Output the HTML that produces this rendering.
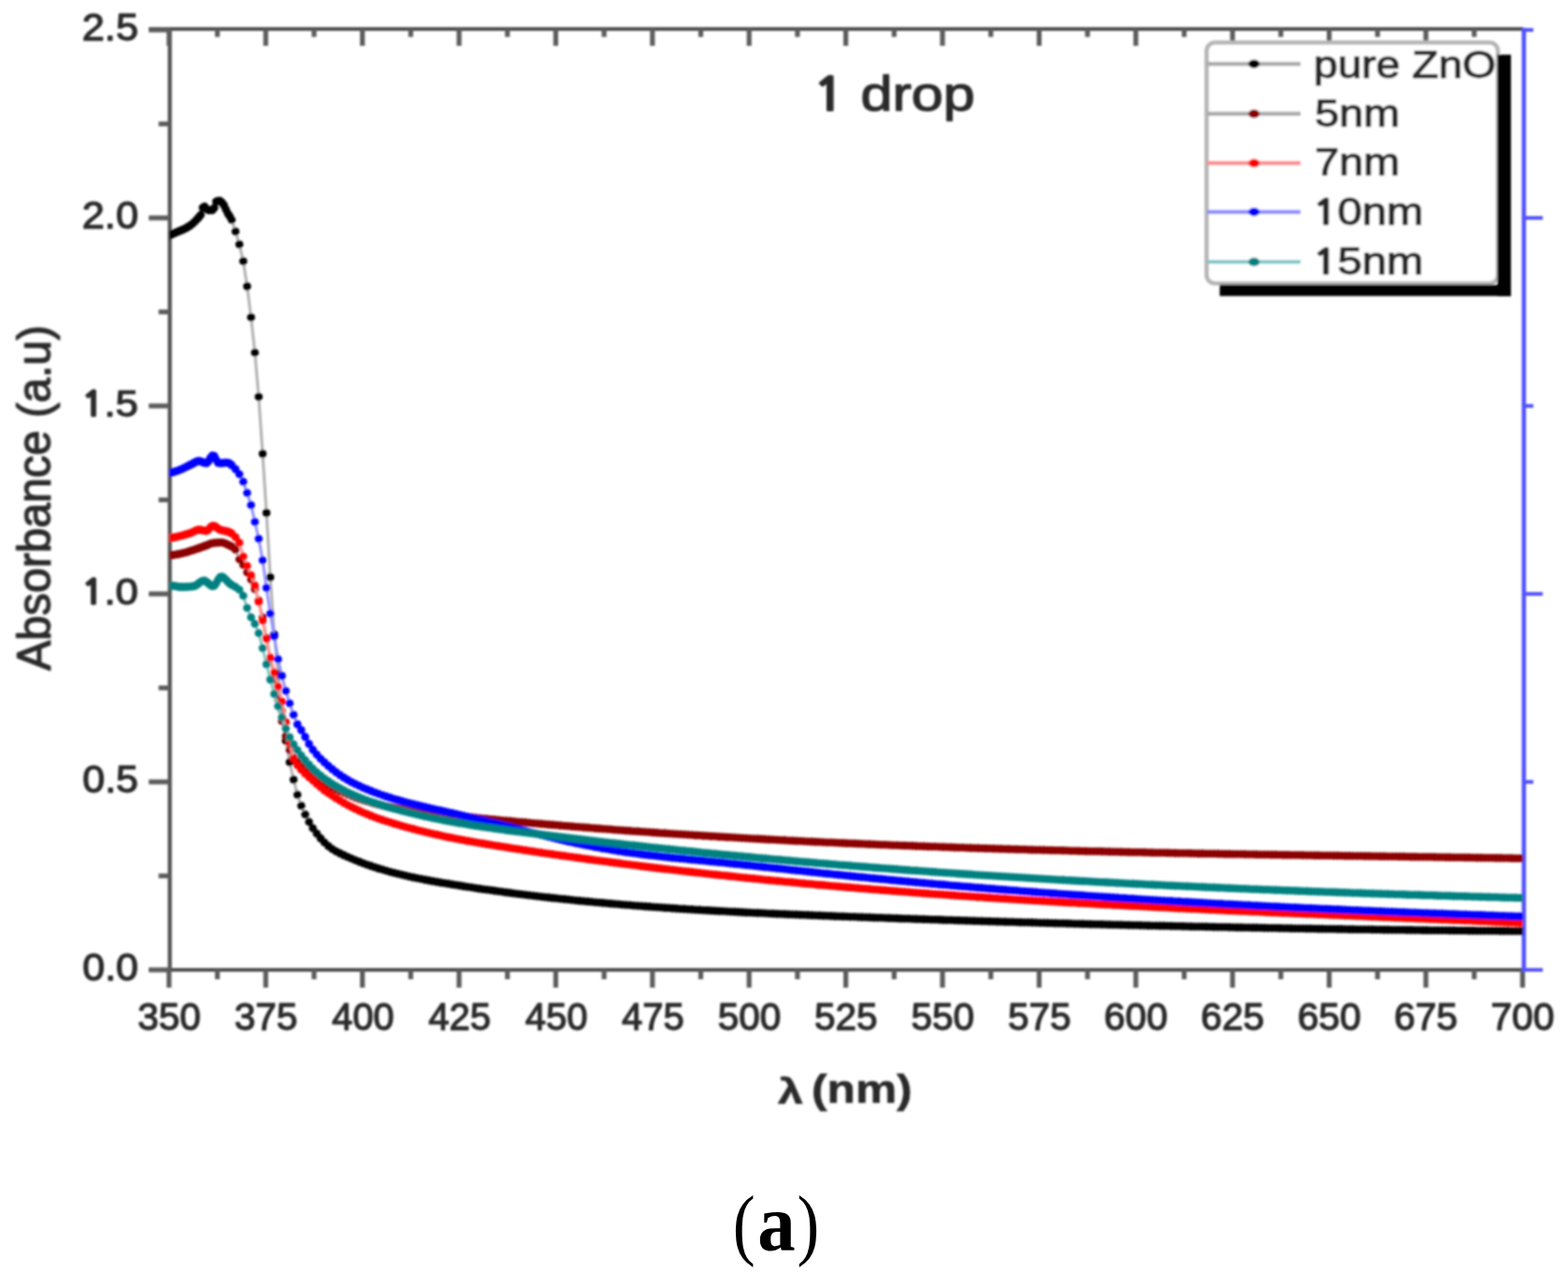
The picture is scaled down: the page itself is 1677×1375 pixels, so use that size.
<!DOCTYPE html>
<html><head><meta charset="utf-8"><title>Absorbance spectra - 1 drop</title>
<style>
html,body{margin:0;padding:0;background:#fff;}
body{width:1677px;height:1375px;overflow:hidden;}
svg{display:block;font-family:"Liberation Sans", Arial, sans-serif;}
</style></head><body>
<svg width="1677" height="1375" viewBox="0 0 1677 1375">
<defs><marker id="mk" markerUnits="userSpaceOnUse" markerWidth="12" markerHeight="12" refX="6" refY="6" viewBox="0 0 12 12"><circle cx="6" cy="6" r="4.3" fill="#000"/></marker><marker id="md" markerUnits="userSpaceOnUse" markerWidth="12" markerHeight="12" refX="6" refY="6" viewBox="0 0 12 12"><circle cx="6" cy="6" r="4.3" fill="#8b0000"/></marker><marker id="mr" markerUnits="userSpaceOnUse" markerWidth="12" markerHeight="12" refX="6" refY="6" viewBox="0 0 12 12"><circle cx="6" cy="6" r="4.3" fill="#ff0000"/></marker><marker id="mb" markerUnits="userSpaceOnUse" markerWidth="12" markerHeight="12" refX="6" refY="6" viewBox="0 0 12 12"><circle cx="6" cy="6" r="4.3" fill="#0000ff"/></marker><marker id="mt" markerUnits="userSpaceOnUse" markerWidth="12" markerHeight="12" refX="6" refY="6" viewBox="0 0 12 12"><circle cx="6" cy="6" r="4.3" fill="#008080"/></marker>
<clipPath id="pc"><rect x="181" y="20" width="1447.5" height="1017"/></clipPath>
<filter id="bl" x="0" y="0" width="1677" height="1375" filterUnits="userSpaceOnUse"><feGaussianBlur stdDeviation="0.9"/></filter></defs>
<rect width="1677" height="1375" fill="#fff"/>
<g filter="url(#bl)">
<g id="axes"><line x1="181.6" y1="30" x2="181.6" y2="1038.8" stroke="#505050" stroke-width="4.2"/><line x1="159" y1="1037.0" x2="1630" y2="1037.0" stroke="#505050" stroke-width="4.2"/><line x1="159" y1="31" x2="1629" y2="31" stroke="#505050" stroke-width="4.2"/><line x1="159.1" y1="1037.0" x2="181.6" y2="1037.0" stroke="#5c5c5c" stroke-width="5.2"/><line x1="169.6" y1="936.5" x2="181.6" y2="936.5" stroke="#5c5c5c" stroke-width="5.2"/><line x1="159.1" y1="836.0" x2="181.6" y2="836.0" stroke="#5c5c5c" stroke-width="5.2"/><line x1="169.6" y1="735.5" x2="181.6" y2="735.5" stroke="#5c5c5c" stroke-width="5.2"/><line x1="159.1" y1="635.0" x2="181.6" y2="635.0" stroke="#5c5c5c" stroke-width="5.2"/><line x1="169.6" y1="534.5" x2="181.6" y2="534.5" stroke="#5c5c5c" stroke-width="5.2"/><line x1="159.1" y1="434.0" x2="181.6" y2="434.0" stroke="#5c5c5c" stroke-width="5.2"/><line x1="169.6" y1="333.5" x2="181.6" y2="333.5" stroke="#5c5c5c" stroke-width="5.2"/><line x1="159.1" y1="233.0" x2="181.6" y2="233.0" stroke="#5c5c5c" stroke-width="5.2"/><line x1="169.6" y1="132.5" x2="181.6" y2="132.5" stroke="#5c5c5c" stroke-width="5.2"/><line x1="159.1" y1="32.0" x2="181.6" y2="32.0" stroke="#5c5c5c" stroke-width="5.2"/><line x1="180.8" y1="1037.0" x2="180.8" y2="1056.0" stroke="#5c5c5c" stroke-width="5.2"/><line x1="180.8" y1="31" x2="180.8" y2="49" stroke="#5c5c5c" stroke-width="5.2"/><line x1="232.5" y1="1037.0" x2="232.5" y2="1047.0" stroke="#5c5c5c" stroke-width="5.2"/><line x1="232.5" y1="31" x2="232.5" y2="39.5" stroke="#5c5c5c" stroke-width="5.2"/><line x1="284.2" y1="1037.0" x2="284.2" y2="1056.0" stroke="#5c5c5c" stroke-width="5.2"/><line x1="284.2" y1="31" x2="284.2" y2="49" stroke="#5c5c5c" stroke-width="5.2"/><line x1="335.9" y1="1037.0" x2="335.9" y2="1047.0" stroke="#5c5c5c" stroke-width="5.2"/><line x1="335.9" y1="31" x2="335.9" y2="39.5" stroke="#5c5c5c" stroke-width="5.2"/><line x1="387.6" y1="1037.0" x2="387.6" y2="1056.0" stroke="#5c5c5c" stroke-width="5.2"/><line x1="387.6" y1="31" x2="387.6" y2="49" stroke="#5c5c5c" stroke-width="5.2"/><line x1="439.3" y1="1037.0" x2="439.3" y2="1047.0" stroke="#5c5c5c" stroke-width="5.2"/><line x1="439.3" y1="31" x2="439.3" y2="39.5" stroke="#5c5c5c" stroke-width="5.2"/><line x1="491.0" y1="1037.0" x2="491.0" y2="1056.0" stroke="#5c5c5c" stroke-width="5.2"/><line x1="491.0" y1="31" x2="491.0" y2="49" stroke="#5c5c5c" stroke-width="5.2"/><line x1="542.7" y1="1037.0" x2="542.7" y2="1047.0" stroke="#5c5c5c" stroke-width="5.2"/><line x1="542.7" y1="31" x2="542.7" y2="39.5" stroke="#5c5c5c" stroke-width="5.2"/><line x1="594.4" y1="1037.0" x2="594.4" y2="1056.0" stroke="#5c5c5c" stroke-width="5.2"/><line x1="594.4" y1="31" x2="594.4" y2="49" stroke="#5c5c5c" stroke-width="5.2"/><line x1="646.1" y1="1037.0" x2="646.1" y2="1047.0" stroke="#5c5c5c" stroke-width="5.2"/><line x1="646.1" y1="31" x2="646.1" y2="39.5" stroke="#5c5c5c" stroke-width="5.2"/><line x1="697.8" y1="1037.0" x2="697.8" y2="1056.0" stroke="#5c5c5c" stroke-width="5.2"/><line x1="697.8" y1="31" x2="697.8" y2="49" stroke="#5c5c5c" stroke-width="5.2"/><line x1="749.5" y1="1037.0" x2="749.5" y2="1047.0" stroke="#5c5c5c" stroke-width="5.2"/><line x1="749.5" y1="31" x2="749.5" y2="39.5" stroke="#5c5c5c" stroke-width="5.2"/><line x1="801.2" y1="1037.0" x2="801.2" y2="1056.0" stroke="#5c5c5c" stroke-width="5.2"/><line x1="801.2" y1="31" x2="801.2" y2="49" stroke="#5c5c5c" stroke-width="5.2"/><line x1="852.9" y1="1037.0" x2="852.9" y2="1047.0" stroke="#5c5c5c" stroke-width="5.2"/><line x1="852.9" y1="31" x2="852.9" y2="39.5" stroke="#5c5c5c" stroke-width="5.2"/><line x1="904.6" y1="1037.0" x2="904.6" y2="1056.0" stroke="#5c5c5c" stroke-width="5.2"/><line x1="904.6" y1="31" x2="904.6" y2="49" stroke="#5c5c5c" stroke-width="5.2"/><line x1="956.3" y1="1037.0" x2="956.3" y2="1047.0" stroke="#5c5c5c" stroke-width="5.2"/><line x1="956.3" y1="31" x2="956.3" y2="39.5" stroke="#5c5c5c" stroke-width="5.2"/><line x1="1008.0" y1="1037.0" x2="1008.0" y2="1056.0" stroke="#5c5c5c" stroke-width="5.2"/><line x1="1008.0" y1="31" x2="1008.0" y2="49" stroke="#5c5c5c" stroke-width="5.2"/><line x1="1059.7" y1="1037.0" x2="1059.7" y2="1047.0" stroke="#5c5c5c" stroke-width="5.2"/><line x1="1059.7" y1="31" x2="1059.7" y2="39.5" stroke="#5c5c5c" stroke-width="5.2"/><line x1="1111.4" y1="1037.0" x2="1111.4" y2="1056.0" stroke="#5c5c5c" stroke-width="5.2"/><line x1="1111.4" y1="31" x2="1111.4" y2="49" stroke="#5c5c5c" stroke-width="5.2"/><line x1="1163.1" y1="1037.0" x2="1163.1" y2="1047.0" stroke="#5c5c5c" stroke-width="5.2"/><line x1="1163.1" y1="31" x2="1163.1" y2="39.5" stroke="#5c5c5c" stroke-width="5.2"/><line x1="1214.8" y1="1037.0" x2="1214.8" y2="1056.0" stroke="#5c5c5c" stroke-width="5.2"/><line x1="1214.8" y1="31" x2="1214.8" y2="49" stroke="#5c5c5c" stroke-width="5.2"/><line x1="1266.5" y1="1037.0" x2="1266.5" y2="1047.0" stroke="#5c5c5c" stroke-width="5.2"/><line x1="1266.5" y1="31" x2="1266.5" y2="39.5" stroke="#5c5c5c" stroke-width="5.2"/><line x1="1318.2" y1="1037.0" x2="1318.2" y2="1056.0" stroke="#5c5c5c" stroke-width="5.2"/><line x1="1318.2" y1="31" x2="1318.2" y2="49" stroke="#5c5c5c" stroke-width="5.2"/><line x1="1369.9" y1="1037.0" x2="1369.9" y2="1047.0" stroke="#5c5c5c" stroke-width="5.2"/><line x1="1369.9" y1="31" x2="1369.9" y2="39.5" stroke="#5c5c5c" stroke-width="5.2"/><line x1="1421.6" y1="1037.0" x2="1421.6" y2="1056.0" stroke="#5c5c5c" stroke-width="5.2"/><line x1="1421.6" y1="31" x2="1421.6" y2="49" stroke="#5c5c5c" stroke-width="5.2"/><line x1="1473.3" y1="1037.0" x2="1473.3" y2="1047.0" stroke="#5c5c5c" stroke-width="5.2"/><line x1="1473.3" y1="31" x2="1473.3" y2="39.5" stroke="#5c5c5c" stroke-width="5.2"/><line x1="1525.0" y1="1037.0" x2="1525.0" y2="1056.0" stroke="#5c5c5c" stroke-width="5.2"/><line x1="1525.0" y1="31" x2="1525.0" y2="49" stroke="#5c5c5c" stroke-width="5.2"/><line x1="1576.7" y1="1037.0" x2="1576.7" y2="1047.0" stroke="#5c5c5c" stroke-width="5.2"/><line x1="1576.7" y1="31" x2="1576.7" y2="39.5" stroke="#5c5c5c" stroke-width="5.2"/><line x1="1628.4" y1="1037.0" x2="1628.4" y2="1056.0" stroke="#5c5c5c" stroke-width="5.2"/><line x1="1629.8" y1="29.8" x2="1629.8" y2="1039" stroke="#5252ff" stroke-width="4.6"/><line x1="1630" y1="1037.0" x2="1650" y2="1037.0" stroke="#5252ff" stroke-width="4"/><line x1="1630" y1="836.0" x2="1640" y2="836.0" stroke="#5252ff" stroke-width="4"/><line x1="1630" y1="635.0" x2="1650" y2="635.0" stroke="#5252ff" stroke-width="4"/><line x1="1630" y1="434.0" x2="1640" y2="434.0" stroke="#5252ff" stroke-width="4"/><line x1="1630" y1="233.0" x2="1650" y2="233.0" stroke="#5252ff" stroke-width="4"/><line x1="1630" y1="32.0" x2="1640" y2="32.0" stroke="#5252ff" stroke-width="4"/></g>
<g id="curves" clip-path="url(#pc)"><polyline points="181.6,251.5 183.7,250.6 185.7,249.7 187.8,248.8 189.9,247.9 191.9,247.0 194.0,246.1 196.1,245.2 198.1,244.2 200.2,243.1 202.3,241.9 204.3,240.5 206.4,238.7 208.5,236.7 210.6,234.5 212.6,232.4 214.7,229.8 216.8,222.0 218.8,220.7 220.9,223.5 223.0,224.8 225.0,224.8 227.1,224.8 229.2,222.2 231.2,215.5 233.3,214.9 235.4,214.8 237.4,216.5 239.5,219.4 241.6,223.9 243.6,228.1 245.7,231.3 247.8,235.0 251.9,247.5 256.0,261.2 260.2,279.3 264.3,306.1 268.5,339.2 272.6,377.0 276.7,424.3 280.9,485.1 285.0,548.4 289.1,617.1 293.3,678.0 297.4,720.5 301.5,760.0 305.7,792.0 309.8,814.9 314.0,833.6 318.1,849.8 322.2,861.5 326.4,870.8 330.5,878.8 334.6,885.5 338.8,891.3 342.9,896.4 347.0,900.8 351.2,904.6 355.3,907.7 359.4,910.3 363.6,912.4 367.7,914.4 371.9,916.3 376.0,918.0 380.1,919.8 384.3,921.4 388.4,923.0 392.5,924.5 396.7,925.9 400.8,927.3 404.9,928.6 409.1,929.8 413.2,931.0 417.4,932.2 421.5,933.3 425.6,934.3 429.8,935.3 433.9,936.3 438.0,937.2 442.2,938.1 446.3,939.0 450.4,939.8 454.6,940.6 458.7,941.4 462.8,942.1 467.0,942.9 471.1,943.6 475.3,944.3 479.4,944.9 483.5,945.6 487.7,946.3 491.8,946.9 495.9,947.6 500.1,948.2 504.2,948.8 508.3,949.5 512.5,950.1 516.6,950.7 520.8,951.3 524.9,951.8 529.0,952.4 533.2,953.0 537.3,953.5 541.4,954.1 545.6,954.6 549.7,955.2 553.8,955.7 558.0,956.2 562.1,956.7 566.2,957.2 570.4,957.7 574.5,958.2 578.7,958.7 582.8,959.2 586.9,959.6 591.1,960.1 595.2,960.5 599.3,961.0 603.5,961.4 607.6,961.8 611.7,962.3 615.9,962.7 620.0,963.1 624.2,963.5 628.3,963.9 632.4,964.3 636.6,964.7 640.7,965.0 644.8,965.4 649.0,965.8 653.1,966.1 657.2,966.5 661.4,966.8 665.5,967.2 669.6,967.5 673.8,967.8 677.9,968.2 682.1,968.5 686.2,968.8 690.3,969.1 694.5,969.4 698.6,969.7 702.7,970.0 706.9,970.3 711.0,970.6 715.1,970.8 719.3,971.1 723.4,971.4 727.6,971.7 731.7,971.9 735.8,972.2 740.0,972.4 744.1,972.7 748.2,972.9 752.4,973.2 756.5,973.4 760.6,973.6 764.8,973.9 768.9,974.1 773.0,974.3 777.2,974.5 781.3,974.7 785.5,974.9 789.6,975.1 793.7,975.4 797.9,975.6 802.0,975.8 806.1,976.0 810.3,976.1 814.4,976.3 818.5,976.5 822.7,976.7 826.8,976.9 831.0,977.1 835.1,977.2 839.2,977.4 843.4,977.6 847.5,977.8 851.6,977.9 855.8,978.1 859.9,978.3 864.0,978.4 868.2,978.6 872.3,978.8 876.4,978.9 880.6,979.1 884.7,979.2 888.9,979.4 893.0,979.6 897.1,979.7 901.3,979.9 905.4,980.0 909.5,980.2 913.7,980.3 917.8,980.5 921.9,980.6 926.1,980.8 930.2,980.9 934.4,981.1 938.5,981.2 942.6,981.3 946.8,981.5 950.9,981.6 955.0,981.8 959.2,981.9 963.3,982.1 967.4,982.2 971.6,982.3 975.7,982.5 979.8,982.6 984.0,982.8 988.1,982.9 992.3,983.0 996.4,983.2 1000.5,983.3 1004.7,983.4 1008.8,983.6 1012.9,983.7 1017.1,983.8 1021.2,984.0 1025.3,984.1 1029.5,984.2 1033.6,984.4 1037.8,984.5 1041.9,984.6 1046.0,984.7 1050.2,984.9 1054.3,985.0 1058.4,985.1 1062.6,985.2 1066.7,985.4 1070.8,985.5 1075.0,985.6 1079.1,985.7 1083.2,985.8 1087.4,986.0 1091.5,986.1 1095.7,986.2 1099.8,986.3 1103.9,986.4 1108.1,986.5 1112.2,986.7 1116.3,986.8 1120.5,986.9 1124.6,987.0 1128.7,987.1 1132.9,987.2 1137.0,987.3 1141.2,987.4 1145.3,987.5 1149.4,987.7 1153.6,987.8 1157.7,987.9 1161.8,988.0 1166.0,988.1 1170.1,988.2 1174.2,988.3 1178.4,988.4 1182.5,988.5 1186.6,988.6 1190.8,988.7 1194.9,988.8 1199.1,988.9 1203.2,989.0 1207.3,989.1 1211.5,989.2 1215.6,989.3 1219.7,989.4 1223.9,989.5 1228.0,989.6 1232.1,989.7 1236.3,989.8 1240.4,989.9 1244.6,989.9 1248.7,990.0 1252.8,990.1 1257.0,990.2 1261.1,990.3 1265.2,990.4 1269.4,990.5 1273.5,990.6 1277.6,990.7 1281.8,990.7 1285.9,990.8 1290.0,990.9 1294.2,991.0 1298.3,991.1 1302.5,991.2 1306.6,991.2 1310.7,991.3 1314.9,991.4 1319.0,991.5 1323.1,991.6 1327.3,991.6 1331.4,991.7 1335.5,991.8 1339.7,991.9 1343.8,991.9 1348.0,992.0 1352.1,992.1 1356.2,992.2 1360.4,992.2 1364.5,992.3 1368.6,992.4 1372.8,992.5 1376.9,992.5 1381.0,992.6 1385.2,992.7 1389.3,992.7 1393.4,992.8 1397.6,992.9 1401.7,992.9 1405.9,993.0 1410.0,993.1 1414.1,993.1 1418.3,993.2 1422.4,993.2 1426.5,993.3 1430.7,993.4 1434.8,993.4 1438.9,993.5 1443.1,993.6 1447.2,993.6 1451.4,993.7 1455.5,993.7 1459.6,993.8 1463.8,993.8 1467.9,993.9 1472.0,994.0 1476.2,994.0 1480.3,994.1 1484.4,994.1 1488.6,994.2 1492.7,994.2 1496.8,994.3 1501.0,994.3 1505.1,994.4 1509.3,994.4 1513.4,994.5 1517.5,994.5 1521.7,994.6 1525.8,994.6 1529.9,994.7 1534.1,994.7 1538.2,994.7 1542.3,994.8 1546.5,994.8 1550.6,994.9 1554.8,994.9 1558.9,995.0 1563.0,995.0 1567.2,995.0 1571.3,995.1 1575.4,995.1 1579.6,995.2 1583.7,995.2 1587.8,995.2 1592.0,995.3 1596.1,995.3 1600.2,995.3 1604.4,995.4 1608.5,995.4 1612.7,995.4 1616.8,995.5 1620.9,995.5 1625.1,995.5 1629.2,995.6" fill="none" stroke="#b0b0b0" stroke-width="3" marker-start="url(#mk)" marker-mid="url(#mk)" marker-end="url(#mk)"/><polyline points="181.6,593.8 183.7,593.6 185.7,593.3 187.8,593.0 189.9,592.6 191.9,592.2 194.0,591.8 196.1,591.3 198.1,590.8 200.2,590.2 202.3,589.5 204.3,588.8 206.4,588.2 208.5,587.5 210.6,586.8 212.6,586.1 214.7,585.3 216.8,584.6 218.8,583.9 220.9,583.1 223.0,582.2 225.0,581.3 227.1,580.7 229.2,580.5 231.2,580.3 233.3,580.1 235.4,580.0 237.4,580.0 239.5,580.5 241.6,581.3 243.6,582.3 245.7,583.3 247.8,584.4 251.9,587.8 256.0,598.0 260.2,604.0 264.3,612.0 268.5,619.5 272.6,630.0 276.7,642.0 280.9,660.0 285.0,682.0 289.1,704.0 293.3,726.0 297.4,748.0 301.5,771.0 305.7,787.0 309.8,802.0 314.0,810.0 318.1,814.5 322.2,818.2 326.4,822.0 330.5,825.4 334.6,828.5 338.8,831.5 342.9,834.3 347.0,836.9 351.2,839.3 355.3,841.6 359.4,843.7 363.6,845.6 367.7,847.5 371.9,849.3 376.0,851.0 380.1,852.6 384.3,854.1 388.4,855.5 392.5,856.8 396.7,858.0 400.8,859.1 404.9,860.2 409.1,861.1 413.2,862.0 417.4,862.9 421.5,863.6 425.6,864.4 429.8,865.1 433.9,865.7 438.0,866.3 442.2,866.9 446.3,867.4 450.4,867.9 454.6,868.4 458.7,868.9 462.8,869.4 467.0,869.9 471.1,870.3 475.3,870.8 479.4,871.3 483.5,871.7 487.7,872.2 491.8,872.6 495.9,873.0 500.1,873.5 504.2,873.9 508.3,874.3 512.5,874.7 516.6,875.2 520.8,875.6 524.9,876.0 529.0,876.4 533.2,876.8 537.3,877.2 541.4,877.5 545.6,877.9 549.7,878.3 553.8,878.7 558.0,879.1 562.1,879.4 566.2,879.8 570.4,880.2 574.5,880.5 578.7,880.9 582.8,881.2 586.9,881.6 591.1,881.9 595.2,882.3 599.3,882.6 603.5,883.0 607.6,883.3 611.7,883.6 615.9,884.0 620.0,884.3 624.2,884.6 628.3,884.9 632.4,885.3 636.6,885.6 640.7,885.9 644.8,886.2 649.0,886.5 653.1,886.8 657.2,887.2 661.4,887.5 665.5,887.8 669.6,888.1 673.8,888.4 677.9,888.7 682.1,888.9 686.2,889.2 690.3,889.5 694.5,889.8 698.6,890.1 702.7,890.4 706.9,890.7 711.0,890.9 715.1,891.2 719.3,891.5 723.4,891.7 727.6,892.0 731.7,892.3 735.8,892.5 740.0,892.8 744.1,893.1 748.2,893.3 752.4,893.6 756.5,893.8 760.6,894.1 764.8,894.3 768.9,894.6 773.0,894.8 777.2,895.1 781.3,895.3 785.5,895.5 789.6,895.8 793.7,896.0 797.9,896.2 802.0,896.5 806.1,896.7 810.3,896.9 814.4,897.1 818.5,897.4 822.7,897.6 826.8,897.8 831.0,898.0 835.1,898.2 839.2,898.4 843.4,898.7 847.5,898.9 851.6,899.1 855.8,899.3 859.9,899.5 864.0,899.7 868.2,899.9 872.3,900.1 876.4,900.3 880.6,900.5 884.7,900.7 888.9,900.8 893.0,901.0 897.1,901.2 901.3,901.4 905.4,901.6 909.5,901.8 913.7,901.9 917.8,902.1 921.9,902.3 926.1,902.5 930.2,902.6 934.4,902.8 938.5,903.0 942.6,903.2 946.8,903.3 950.9,903.5 955.0,903.7 959.2,903.8 963.3,904.0 967.4,904.1 971.6,904.3 975.7,904.4 979.8,904.6 984.0,904.8 988.1,904.9 992.3,905.1 996.4,905.2 1000.5,905.3 1004.7,905.5 1008.8,905.6 1012.9,905.8 1017.1,905.9 1021.2,906.1 1025.3,906.2 1029.5,906.3 1033.6,906.5 1037.8,906.6 1041.9,906.7 1046.0,906.9 1050.2,907.0 1054.3,907.1 1058.4,907.3 1062.6,907.4 1066.7,907.5 1070.8,907.6 1075.0,907.7 1079.1,907.9 1083.2,908.0 1087.4,908.1 1091.5,908.2 1095.7,908.3 1099.8,908.5 1103.9,908.6 1108.1,908.7 1112.2,908.8 1116.3,908.9 1120.5,909.0 1124.6,909.1 1128.7,909.2 1132.9,909.3 1137.0,909.4 1141.2,909.5 1145.3,909.7 1149.4,909.8 1153.6,909.9 1157.7,910.0 1161.8,910.1 1166.0,910.2 1170.1,910.3 1174.2,910.3 1178.4,910.4 1182.5,910.5 1186.6,910.6 1190.8,910.7 1194.9,910.8 1199.1,910.9 1203.2,911.0 1207.3,911.1 1211.5,911.2 1215.6,911.3 1219.7,911.3 1223.9,911.4 1228.0,911.5 1232.1,911.6 1236.3,911.7 1240.4,911.8 1244.6,911.8 1248.7,911.9 1252.8,912.0 1257.0,912.1 1261.1,912.2 1265.2,912.2 1269.4,912.3 1273.5,912.4 1277.6,912.5 1281.8,912.6 1285.9,912.6 1290.0,912.7 1294.2,912.8 1298.3,912.8 1302.5,912.9 1306.6,913.0 1310.7,913.1 1314.9,913.1 1319.0,913.2 1323.1,913.3 1327.3,913.3 1331.4,913.4 1335.5,913.5 1339.7,913.5 1343.8,913.6 1348.0,913.7 1352.1,913.8 1356.2,913.8 1360.4,913.9 1364.5,913.9 1368.6,914.0 1372.8,914.1 1376.9,914.1 1381.0,914.2 1385.2,914.3 1389.3,914.3 1393.4,914.4 1397.6,914.5 1401.7,914.5 1405.9,914.6 1410.0,914.6 1414.1,914.7 1418.3,914.8 1422.4,914.8 1426.5,914.9 1430.7,914.9 1434.8,915.0 1438.9,915.1 1443.1,915.1 1447.2,915.2 1451.4,915.2 1455.5,915.3 1459.6,915.4 1463.8,915.4 1467.9,915.5 1472.0,915.5 1476.2,915.6 1480.3,915.6 1484.4,915.7 1488.6,915.8 1492.7,915.8 1496.8,915.9 1501.0,915.9 1505.1,916.0 1509.3,916.1 1513.4,916.1 1517.5,916.2 1521.7,916.2 1525.8,916.3 1529.9,916.3 1534.1,916.4 1538.2,916.5 1542.3,916.5 1546.5,916.6 1550.6,916.6 1554.8,916.7 1558.9,916.8 1563.0,916.8 1567.2,916.9 1571.3,916.9 1575.4,917.0 1579.6,917.1 1583.7,917.1 1587.8,917.2 1592.0,917.2 1596.1,917.3 1600.2,917.4 1604.4,917.4 1608.5,917.5 1612.7,917.5 1616.8,917.6 1620.9,917.7 1625.1,917.7 1629.2,917.8" fill="none" stroke="#b0b0b0" stroke-width="3" marker-start="url(#md)" marker-mid="url(#md)" marker-end="url(#md)"/><polyline points="181.6,575.2 183.7,575.0 185.7,574.6 187.8,574.2 189.9,573.7 191.9,573.2 194.0,572.7 196.1,572.2 198.1,571.6 200.2,571.0 202.3,570.4 204.3,569.7 206.4,568.7 208.5,567.7 210.6,566.9 212.6,566.4 214.7,566.5 216.8,567.0 218.8,567.4 220.9,567.6 223.0,566.2 225.0,563.9 227.1,562.3 229.2,562.4 231.2,563.6 233.3,565.2 235.4,566.4 237.4,567.0 239.5,567.5 241.6,567.9 243.6,568.4 245.7,569.1 247.8,570.4 251.9,574.2 256.0,580.2 260.2,595.0 264.3,605.0 268.5,615.0 272.6,626.0 276.7,643.5 280.9,663.5 285.0,683.0 289.1,703.0 293.3,719.0 297.4,734.0 301.5,750.0 305.7,772.0 309.8,795.0 314.0,811.3 318.1,818.3 322.2,823.0 326.4,827.3 330.5,830.9 334.6,834.4 338.8,838.2 342.9,841.8 347.0,845.1 351.2,848.0 355.3,850.8 359.4,853.4 363.6,855.9 367.7,858.4 371.9,860.7 376.0,862.9 380.1,864.9 384.3,866.9 388.4,868.7 392.5,870.4 396.7,872.1 400.8,873.7 404.9,875.2 409.1,876.6 413.2,878.0 417.4,879.3 421.5,880.6 425.6,881.8 429.8,883.0 433.9,884.2 438.0,885.3 442.2,886.4 446.3,887.5 450.4,888.5 454.6,889.5 458.7,890.5 462.8,891.5 467.0,892.4 471.1,893.3 475.3,894.2 479.4,895.1 483.5,895.9 487.7,896.7 491.8,897.5 495.9,898.3 500.1,899.1 504.2,899.8 508.3,900.5 512.5,901.2 516.6,901.9 520.8,902.6 524.9,903.3 529.0,904.0 533.2,904.6 537.3,905.3 541.4,905.9 545.6,906.6 549.7,907.2 553.8,907.9 558.0,908.5 562.1,909.1 566.2,909.7 570.4,910.4 574.5,911.0 578.7,911.6 582.8,912.2 586.9,912.8 591.1,913.4 595.2,914.0 599.3,914.6 603.5,915.1 607.6,915.7 611.7,916.3 615.9,916.9 620.0,917.4 624.2,918.0 628.3,918.6 632.4,919.1 636.6,919.7 640.7,920.2 644.8,920.8 649.0,921.3 653.1,921.9 657.2,922.4 661.4,922.9 665.5,923.5 669.6,924.0 673.8,924.5 677.9,925.0 682.1,925.5 686.2,926.1 690.3,926.6 694.5,927.1 698.6,927.6 702.7,928.1 706.9,928.6 711.0,929.1 715.1,929.5 719.3,930.0 723.4,930.5 727.6,931.0 731.7,931.5 735.8,931.9 740.0,932.4 744.1,932.9 748.2,933.3 752.4,933.8 756.5,934.2 760.6,934.7 764.8,935.1 768.9,935.6 773.0,936.0 777.2,936.4 781.3,936.9 785.5,937.3 789.6,937.7 793.7,938.2 797.9,938.6 802.0,939.0 806.1,939.4 810.3,939.8 814.4,940.3 818.5,940.7 822.7,941.1 826.8,941.5 831.0,941.9 835.1,942.3 839.2,942.7 843.4,943.0 847.5,943.4 851.6,943.8 855.8,944.2 859.9,944.6 864.0,945.0 868.2,945.3 872.3,945.7 876.4,946.1 880.6,946.4 884.7,946.8 888.9,947.2 893.0,947.5 897.1,947.9 901.3,948.2 905.4,948.6 909.5,948.9 913.7,949.3 917.8,949.6 921.9,950.0 926.1,950.3 930.2,950.6 934.4,951.0 938.5,951.3 942.6,951.6 946.8,951.9 950.9,952.3 955.0,952.6 959.2,952.9 963.3,953.2 967.4,953.5 971.6,953.8 975.7,954.2 979.8,954.5 984.0,954.8 988.1,955.1 992.3,955.4 996.4,955.7 1000.5,956.0 1004.7,956.3 1008.8,956.5 1012.9,956.8 1017.1,957.1 1021.2,957.4 1025.3,957.7 1029.5,958.0 1033.6,958.3 1037.8,958.5 1041.9,958.8 1046.0,959.1 1050.2,959.3 1054.3,959.6 1058.4,959.9 1062.6,960.2 1066.7,960.4 1070.8,960.7 1075.0,960.9 1079.1,961.2 1083.2,961.5 1087.4,961.7 1091.5,962.0 1095.7,962.2 1099.8,962.5 1103.9,962.7 1108.1,963.0 1112.2,963.2 1116.3,963.4 1120.5,963.7 1124.6,963.9 1128.7,964.2 1132.9,964.4 1137.0,964.6 1141.2,964.9 1145.3,965.1 1149.4,965.3 1153.6,965.6 1157.7,965.8 1161.8,966.0 1166.0,966.2 1170.1,966.5 1174.2,966.7 1178.4,966.9 1182.5,967.1 1186.6,967.3 1190.8,967.6 1194.9,967.8 1199.1,968.0 1203.2,968.2 1207.3,968.4 1211.5,968.6 1215.6,968.8 1219.7,969.0 1223.9,969.3 1228.0,969.5 1232.1,969.7 1236.3,969.9 1240.4,970.1 1244.6,970.3 1248.7,970.5 1252.8,970.7 1257.0,970.9 1261.1,971.1 1265.2,971.3 1269.4,971.5 1273.5,971.7 1277.6,971.8 1281.8,972.0 1285.9,972.2 1290.0,972.4 1294.2,972.6 1298.3,972.8 1302.5,973.0 1306.6,973.2 1310.7,973.4 1314.9,973.6 1319.0,973.7 1323.1,973.9 1327.3,974.1 1331.4,974.3 1335.5,974.5 1339.7,974.7 1343.8,974.8 1348.0,975.0 1352.1,975.2 1356.2,975.4 1360.4,975.6 1364.5,975.7 1368.6,975.9 1372.8,976.1 1376.9,976.3 1381.0,976.4 1385.2,976.6 1389.3,976.8 1393.4,977.0 1397.6,977.1 1401.7,977.3 1405.9,977.5 1410.0,977.7 1414.1,977.8 1418.3,978.0 1422.4,978.2 1426.5,978.4 1430.7,978.5 1434.8,978.7 1438.9,978.9 1443.1,979.0 1447.2,979.2 1451.4,979.4 1455.5,979.5 1459.6,979.7 1463.8,979.9 1467.9,980.1 1472.0,980.2 1476.2,980.4 1480.3,980.6 1484.4,980.7 1488.6,980.9 1492.7,981.1 1496.8,981.3 1501.0,981.4 1505.1,981.6 1509.3,981.8 1513.4,981.9 1517.5,982.1 1521.7,982.3 1525.8,982.4 1529.9,982.6 1534.1,982.8 1538.2,983.0 1542.3,983.1 1546.5,983.3 1550.6,983.5 1554.8,983.7 1558.9,983.8 1563.0,984.0 1567.2,984.2 1571.3,984.3 1575.4,984.5 1579.6,984.7 1583.7,984.9 1587.8,985.0 1592.0,985.2 1596.1,985.4 1600.2,985.6 1604.4,985.8 1608.5,985.9 1612.7,986.1 1616.8,986.3 1620.9,986.5 1625.1,986.7 1629.2,986.8" fill="none" stroke="#ff9090" stroke-width="3" marker-start="url(#mr)" marker-mid="url(#mr)" marker-end="url(#mr)"/><polyline points="181.6,505.5 183.7,505.1 185.7,504.6 187.8,504.0 189.9,503.3 191.9,502.5 194.0,501.7 196.1,500.8 198.1,499.8 200.2,498.7 202.3,497.6 204.3,496.6 206.4,495.6 208.5,494.4 210.6,493.4 212.6,492.9 214.7,493.2 216.8,494.1 218.8,495.0 220.9,495.2 223.0,493.1 225.0,489.6 227.1,487.0 229.2,487.6 231.2,491.5 233.3,494.9 235.4,495.3 237.4,495.1 239.5,494.9 241.6,494.8 243.6,494.7 245.7,495.6 247.8,497.4 251.9,501.6 256.0,507.0 260.2,515.0 264.3,527.0 268.5,540.0 272.6,558.0 276.7,576.0 280.9,599.0 285.0,628.5 289.1,656.0 293.3,680.3 297.4,704.8 301.5,722.6 305.7,738.8 309.8,752.0 314.0,764.3 318.1,774.4 322.2,780.6 326.4,787.9 330.5,795.4 334.6,801.6 338.8,806.8 342.9,811.2 347.0,815.1 351.2,818.9 355.3,822.4 359.4,825.6 363.6,828.6 367.7,831.4 371.9,833.9 376.0,836.2 380.1,838.3 384.3,840.3 388.4,842.2 392.5,843.9 396.7,845.6 400.8,847.2 404.9,848.8 409.1,850.2 413.2,851.6 417.4,852.9 421.5,854.2 425.6,855.4 429.8,856.6 433.9,857.7 438.0,858.8 442.2,859.9 446.3,860.9 450.4,861.9 454.6,862.9 458.7,863.8 462.8,864.8 467.0,865.7 471.1,866.6 475.3,867.5 479.4,868.5 483.5,869.4 487.7,870.3 491.8,871.3 495.9,872.2 500.1,873.2 504.2,874.2 508.3,875.2 512.5,876.2 516.6,877.2 520.8,878.2 524.9,879.2 529.0,880.2 533.2,881.3 537.3,882.3 541.4,883.4 545.6,884.4 549.7,885.5 553.8,886.5 558.0,887.6 562.1,888.6 566.2,889.7 570.4,890.7 574.5,891.7 578.7,892.8 582.8,893.8 586.9,894.8 591.1,895.8 595.2,896.7 599.3,897.7 603.5,898.6 607.6,899.6 611.7,900.5 615.9,901.4 620.0,902.2 624.2,903.1 628.3,903.9 632.4,904.8 636.6,905.6 640.7,906.3 644.8,907.1 649.0,907.8 653.1,908.5 657.2,909.2 661.4,909.9 665.5,910.5 669.6,911.1 673.8,911.7 677.9,912.3 682.1,912.8 686.2,913.4 690.3,913.9 694.5,914.4 698.6,914.8 702.7,915.3 706.9,915.8 711.0,916.2 715.1,916.6 719.3,917.1 723.4,917.5 727.6,917.9 731.7,918.3 735.8,918.7 740.0,919.1 744.1,919.5 748.2,919.9 752.4,920.3 756.5,920.7 760.6,921.1 764.8,921.5 768.9,921.9 773.0,922.3 777.2,922.8 781.3,923.2 785.5,923.6 789.6,924.0 793.7,924.5 797.9,924.9 802.0,925.3 806.1,925.8 810.3,926.2 814.4,926.6 818.5,927.1 822.7,927.5 826.8,928.0 831.0,928.4 835.1,928.8 839.2,929.3 843.4,929.7 847.5,930.2 851.6,930.6 855.8,931.0 859.9,931.5 864.0,931.9 868.2,932.4 872.3,932.8 876.4,933.2 880.6,933.7 884.7,934.1 888.9,934.5 893.0,935.0 897.1,935.4 901.3,935.8 905.4,936.2 909.5,936.6 913.7,937.1 917.8,937.5 921.9,937.9 926.1,938.3 930.2,938.7 934.4,939.1 938.5,939.5 942.6,939.9 946.8,940.3 950.9,940.7 955.0,941.1 959.2,941.5 963.3,941.9 967.4,942.2 971.6,942.6 975.7,943.0 979.8,943.4 984.0,943.7 988.1,944.1 992.3,944.5 996.4,944.9 1000.5,945.2 1004.7,945.6 1008.8,945.9 1012.9,946.3 1017.1,946.7 1021.2,947.0 1025.3,947.4 1029.5,947.7 1033.6,948.0 1037.8,948.4 1041.9,948.7 1046.0,949.1 1050.2,949.4 1054.3,949.7 1058.4,950.1 1062.6,950.4 1066.7,950.7 1070.8,951.1 1075.0,951.4 1079.1,951.7 1083.2,952.0 1087.4,952.3 1091.5,952.7 1095.7,953.0 1099.8,953.3 1103.9,953.6 1108.1,953.9 1112.2,954.2 1116.3,954.5 1120.5,954.8 1124.6,955.1 1128.7,955.4 1132.9,955.7 1137.0,956.0 1141.2,956.3 1145.3,956.6 1149.4,956.9 1153.6,957.1 1157.7,957.4 1161.8,957.7 1166.0,958.0 1170.1,958.3 1174.2,958.5 1178.4,958.8 1182.5,959.1 1186.6,959.4 1190.8,959.6 1194.9,959.9 1199.1,960.2 1203.2,960.4 1207.3,960.7 1211.5,960.9 1215.6,961.2 1219.7,961.5 1223.9,961.7 1228.0,962.0 1232.1,962.2 1236.3,962.5 1240.4,962.7 1244.6,963.0 1248.7,963.2 1252.8,963.4 1257.0,963.7 1261.1,963.9 1265.2,964.2 1269.4,964.4 1273.5,964.6 1277.6,964.9 1281.8,965.1 1285.9,965.3 1290.0,965.5 1294.2,965.8 1298.3,966.0 1302.5,966.2 1306.6,966.4 1310.7,966.7 1314.9,966.9 1319.0,967.1 1323.1,967.3 1327.3,967.5 1331.4,967.7 1335.5,967.9 1339.7,968.2 1343.8,968.4 1348.0,968.6 1352.1,968.8 1356.2,969.0 1360.4,969.2 1364.5,969.4 1368.6,969.6 1372.8,969.8 1376.9,970.0 1381.0,970.2 1385.2,970.4 1389.3,970.6 1393.4,970.8 1397.6,971.0 1401.7,971.1 1405.9,971.3 1410.0,971.5 1414.1,971.7 1418.3,971.9 1422.4,972.1 1426.5,972.3 1430.7,972.4 1434.8,972.6 1438.9,972.8 1443.1,973.0 1447.2,973.2 1451.4,973.3 1455.5,973.5 1459.6,973.7 1463.8,973.9 1467.9,974.0 1472.0,974.2 1476.2,974.4 1480.3,974.5 1484.4,974.7 1488.6,974.9 1492.7,975.0 1496.8,975.2 1501.0,975.4 1505.1,975.5 1509.3,975.7 1513.4,975.8 1517.5,976.0 1521.7,976.2 1525.8,976.3 1529.9,976.5 1534.1,976.6 1538.2,976.8 1542.3,976.9 1546.5,977.1 1550.6,977.3 1554.8,977.4 1558.9,977.6 1563.0,977.7 1567.2,977.9 1571.3,978.0 1575.4,978.2 1579.6,978.3 1583.7,978.4 1587.8,978.6 1592.0,978.7 1596.1,978.9 1600.2,979.0 1604.4,979.2 1608.5,979.3 1612.7,979.5 1616.8,979.6 1620.9,979.7 1625.1,979.9 1629.2,980.0" fill="none" stroke="#9090ff" stroke-width="3" marker-start="url(#mb)" marker-mid="url(#mb)" marker-end="url(#mb)"/><polyline points="181.6,626.3 183.7,626.3 185.7,626.4 187.8,626.8 189.9,627.1 191.9,627.4 194.0,627.6 196.1,627.6 198.1,627.5 200.2,627.4 202.3,627.3 204.3,627.1 206.4,626.9 208.5,626.4 210.6,625.2 212.6,623.6 214.7,622.0 216.8,621.0 218.8,620.9 220.9,622.1 223.0,623.9 225.0,625.7 227.1,626.8 229.2,626.3 231.2,623.5 233.3,619.8 235.4,617.0 237.4,616.5 239.5,617.7 241.6,619.7 243.6,621.9 245.7,624.0 247.8,625.4 251.9,627.6 256.0,630.5 260.2,637.0 264.3,650.0 268.5,660.0 272.6,667.0 276.7,677.0 280.9,693.0 285.0,710.3 289.1,726.6 293.3,742.0 297.4,755.0 301.5,767.0 305.7,779.0 309.8,788.2 314.0,795.7 318.1,802.0 322.2,807.7 326.4,812.9 330.5,817.6 334.6,821.9 338.8,825.7 342.9,829.2 347.0,832.5 351.2,835.4 355.3,838.1 359.4,840.6 363.6,842.8 367.7,845.1 371.9,847.2 376.0,849.1 380.1,850.9 384.3,852.6 388.4,854.3 392.5,855.8 396.7,857.2 400.8,858.6 404.9,859.9 409.1,861.1 413.2,862.4 417.4,863.6 421.5,864.7 425.6,865.8 429.8,866.9 433.9,868.0 438.0,869.0 442.2,870.0 446.3,871.0 450.4,872.0 454.6,872.9 458.7,873.8 462.8,874.7 467.0,875.5 471.1,876.3 475.3,877.1 479.4,877.9 483.5,878.7 487.7,879.4 491.8,880.1 495.9,880.8 500.1,881.5 504.2,882.2 508.3,882.9 512.5,883.5 516.6,884.1 520.8,884.7 524.9,885.3 529.0,885.9 533.2,886.5 537.3,887.0 541.4,887.6 545.6,888.2 549.7,888.7 553.8,889.2 558.0,889.8 562.1,890.3 566.2,890.8 570.4,891.3 574.5,891.8 578.7,892.4 582.8,892.9 586.9,893.4 591.1,893.9 595.2,894.4 599.3,894.9 603.5,895.4 607.6,895.9 611.7,896.4 615.9,896.9 620.0,897.4 624.2,897.8 628.3,898.3 632.4,898.8 636.6,899.3 640.7,899.8 644.8,900.2 649.0,900.7 653.1,901.2 657.2,901.6 661.4,902.1 665.5,902.6 669.6,903.0 673.8,903.5 677.9,903.9 682.1,904.4 686.2,904.8 690.3,905.3 694.5,905.7 698.6,906.2 702.7,906.6 706.9,907.0 711.0,907.5 715.1,907.9 719.3,908.3 723.4,908.7 727.6,909.2 731.7,909.6 735.8,910.0 740.0,910.4 744.1,910.8 748.2,911.3 752.4,911.7 756.5,912.1 760.6,912.5 764.8,912.9 768.9,913.3 773.0,913.7 777.2,914.1 781.3,914.5 785.5,914.9 789.6,915.3 793.7,915.6 797.9,916.0 802.0,916.4 806.1,916.8 810.3,917.2 814.4,917.6 818.5,917.9 822.7,918.3 826.8,918.7 831.0,919.0 835.1,919.4 839.2,919.8 843.4,920.1 847.5,920.5 851.6,920.9 855.8,921.2 859.9,921.6 864.0,921.9 868.2,922.3 872.3,922.6 876.4,923.0 880.6,923.3 884.7,923.6 888.9,924.0 893.0,924.3 897.1,924.7 901.3,925.0 905.4,925.3 909.5,925.6 913.7,926.0 917.8,926.3 921.9,926.6 926.1,926.9 930.2,927.3 934.4,927.6 938.5,927.9 942.6,928.2 946.8,928.5 950.9,928.8 955.0,929.1 959.2,929.4 963.3,929.7 967.4,930.1 971.6,930.4 975.7,930.7 979.8,930.9 984.0,931.2 988.1,931.5 992.3,931.8 996.4,932.1 1000.5,932.4 1004.7,932.7 1008.8,933.0 1012.9,933.3 1017.1,933.5 1021.2,933.8 1025.3,934.1 1029.5,934.4 1033.6,934.6 1037.8,934.9 1041.9,935.2 1046.0,935.5 1050.2,935.7 1054.3,936.0 1058.4,936.2 1062.6,936.5 1066.7,936.8 1070.8,937.0 1075.0,937.3 1079.1,937.5 1083.2,937.8 1087.4,938.0 1091.5,938.3 1095.7,938.5 1099.8,938.8 1103.9,939.0 1108.1,939.3 1112.2,939.5 1116.3,939.8 1120.5,940.0 1124.6,940.2 1128.7,940.5 1132.9,940.7 1137.0,940.9 1141.2,941.2 1145.3,941.4 1149.4,941.6 1153.6,941.9 1157.7,942.1 1161.8,942.3 1166.0,942.5 1170.1,942.8 1174.2,943.0 1178.4,943.2 1182.5,943.4 1186.6,943.6 1190.8,943.8 1194.9,944.1 1199.1,944.3 1203.2,944.5 1207.3,944.7 1211.5,944.9 1215.6,945.1 1219.7,945.3 1223.9,945.5 1228.0,945.7 1232.1,945.9 1236.3,946.1 1240.4,946.3 1244.6,946.5 1248.7,946.7 1252.8,946.9 1257.0,947.1 1261.1,947.3 1265.2,947.5 1269.4,947.6 1273.5,947.8 1277.6,948.0 1281.8,948.2 1285.9,948.4 1290.0,948.6 1294.2,948.7 1298.3,948.9 1302.5,949.1 1306.6,949.3 1310.7,949.5 1314.9,949.6 1319.0,949.8 1323.1,950.0 1327.3,950.2 1331.4,950.3 1335.5,950.5 1339.7,950.7 1343.8,950.8 1348.0,951.0 1352.1,951.2 1356.2,951.3 1360.4,951.5 1364.5,951.6 1368.6,951.8 1372.8,952.0 1376.9,952.1 1381.0,952.3 1385.2,952.4 1389.3,952.6 1393.4,952.7 1397.6,952.9 1401.7,953.1 1405.9,953.2 1410.0,953.4 1414.1,953.5 1418.3,953.7 1422.4,953.8 1426.5,953.9 1430.7,954.1 1434.8,954.2 1438.9,954.4 1443.1,954.5 1447.2,954.7 1451.4,954.8 1455.5,954.9 1459.6,955.1 1463.8,955.2 1467.9,955.4 1472.0,955.5 1476.2,955.6 1480.3,955.8 1484.4,955.9 1488.6,956.0 1492.7,956.2 1496.8,956.3 1501.0,956.4 1505.1,956.6 1509.3,956.7 1513.4,956.8 1517.5,956.9 1521.7,957.1 1525.8,957.2 1529.9,957.3 1534.1,957.4 1538.2,957.6 1542.3,957.7 1546.5,957.8 1550.6,957.9 1554.8,958.1 1558.9,958.2 1563.0,958.3 1567.2,958.4 1571.3,958.5 1575.4,958.7 1579.6,958.8 1583.7,958.9 1587.8,959.0 1592.0,959.1 1596.1,959.2 1600.2,959.3 1604.4,959.5 1608.5,959.6 1612.7,959.7 1616.8,959.8 1620.9,959.9 1625.1,960.0 1629.2,960.1" fill="none" stroke="#80c8c8" stroke-width="3" marker-start="url(#mt)" marker-mid="url(#mt)" marker-end="url(#mt)"/></g>
<g id="legend"><rect x="1290.5" y="45.5" width="311.5" height="257.5" rx="9" fill="#fff" stroke="#b6b6b6" stroke-width="4.6"/><line x1="1291" y1="68.3" x2="1391" y2="68.3" stroke="#a8a8a8" stroke-width="4.2"/><ellipse cx="1341.2" cy="68.3" rx="6" ry="4.6" fill="#000"/><text transform="translate(1404.97,83.00) scale(1.1545,1)" font-size="40.00" fill="#2b2b2b" stroke="#2b2b2b" stroke-width="1.30" stroke-linejoin="round">pure ZnO</text><line x1="1291" y1="121.7" x2="1391" y2="121.7" stroke="#a8a8a8" stroke-width="4.2"/><ellipse cx="1341.2" cy="121.7" rx="6" ry="4.6" fill="#8b0000"/><text transform="translate(1406.33,134.80) scale(1.1658,1)" font-size="40.00" fill="#2b2b2b" stroke="#2b2b2b" stroke-width="1.30" stroke-linejoin="round">5nm</text><line x1="1291" y1="174.4" x2="1391" y2="174.4" stroke="#ff8a8a" stroke-width="4.2"/><ellipse cx="1341.2" cy="174.4" rx="6" ry="4.6" fill="#ff0000"/><text transform="translate(1406.37,186.60) scale(1.1653,1)" font-size="40.00" fill="#2b2b2b" stroke="#2b2b2b" stroke-width="1.30" stroke-linejoin="round">7nm</text><line x1="1291" y1="226.6" x2="1391" y2="226.6" stroke="#8a8aff" stroke-width="4.2"/><ellipse cx="1341.2" cy="226.6" rx="6" ry="4.6" fill="#0000ff"/><text transform="translate(1403.84,239.60) scale(1.1800,1)" font-size="40.00" fill="#2b2b2b" stroke="#2b2b2b" stroke-width="1.30" stroke-linejoin="round"><tspan font-family="NanumGothic, Liberation Sans, sans-serif" font-weight="bold" style="font-size:93.3%">1</tspan>0nm</text><line x1="1291" y1="280.0" x2="1391" y2="280.0" stroke="#7cc8c8" stroke-width="4.2"/><ellipse cx="1341.2" cy="280.0" rx="6" ry="4.6" fill="#008080"/><text transform="translate(1403.84,293.30) scale(1.1800,1)" font-size="40.00" fill="#2b2b2b" stroke="#2b2b2b" stroke-width="1.30" stroke-linejoin="round"><tspan font-family="NanumGothic, Liberation Sans, sans-serif" font-weight="bold" style="font-size:93.3%">1</tspan>5nm</text><rect x="1601.5" y="58.5" width="14.5" height="258" fill="#000"/><rect x="1304.5" y="304.5" width="311.5" height="12" fill="#000"/></g>
<g id="labels"><text transform="translate(88.28,1048.30) scale(1.0725,1)" font-size="40.00" fill="#2b2b2b" stroke="#2b2b2b" stroke-width="1.30" stroke-linejoin="round">0.0</text><text transform="translate(88.28,847.30) scale(1.0725,1)" font-size="40.00" fill="#2b2b2b" stroke="#2b2b2b" stroke-width="1.30" stroke-linejoin="round">0.5</text><text transform="translate(86.75,646.31) scale(1.1081,1)" font-size="39.44" fill="#2b2b2b" stroke="#2b2b2b" stroke-width="1.30" stroke-linejoin="round"><tspan font-family="NanumGothic, Liberation Sans, sans-serif" font-weight="bold" style="font-size:93.3%">1</tspan>.0</text><text transform="translate(86.75,445.31) scale(1.1081,1)" font-size="39.44" fill="#2b2b2b" stroke="#2b2b2b" stroke-width="1.30" stroke-linejoin="round"><tspan font-family="NanumGothic, Liberation Sans, sans-serif" font-weight="bold" style="font-size:93.3%">1</tspan>.5</text><text transform="translate(87.84,244.30) scale(1.0808,1)" font-size="40.00" fill="#2b2b2b" stroke="#2b2b2b" stroke-width="1.30" stroke-linejoin="round">2.0</text><text transform="translate(87.84,43.30) scale(1.0808,1)" font-size="40.00" fill="#2b2b2b" stroke="#2b2b2b" stroke-width="1.30" stroke-linejoin="round">2.5</text><text transform="translate(147.28,1100.99) scale(0.9985,1)" font-size="40.56" fill="#2b2b2b" stroke="#2b2b2b" stroke-width="1.30" stroke-linejoin="round">350</text><text transform="translate(250.68,1100.99) scale(0.9985,1)" font-size="40.56" fill="#2b2b2b" stroke="#2b2b2b" stroke-width="1.30" stroke-linejoin="round">375</text><text transform="translate(354.90,1100.99) scale(0.9861,1)" font-size="40.56" fill="#2b2b2b" stroke="#2b2b2b" stroke-width="1.30" stroke-linejoin="round">400</text><text transform="translate(458.30,1100.99) scale(0.9861,1)" font-size="40.56" fill="#2b2b2b" stroke="#2b2b2b" stroke-width="1.30" stroke-linejoin="round">425</text><text transform="translate(561.70,1100.99) scale(0.9861,1)" font-size="40.56" fill="#2b2b2b" stroke="#2b2b2b" stroke-width="1.30" stroke-linejoin="round">450</text><text transform="translate(665.10,1100.99) scale(0.9722,1)" font-size="41.14" fill="#2b2b2b" stroke="#2b2b2b" stroke-width="1.30" stroke-linejoin="round">475</text><text transform="translate(767.68,1100.99) scale(0.9985,1)" font-size="40.56" fill="#2b2b2b" stroke="#2b2b2b" stroke-width="1.30" stroke-linejoin="round">500</text><text transform="translate(871.08,1100.99) scale(0.9985,1)" font-size="40.56" fill="#2b2b2b" stroke="#2b2b2b" stroke-width="1.30" stroke-linejoin="round">525</text><text transform="translate(974.48,1100.99) scale(0.9985,1)" font-size="40.56" fill="#2b2b2b" stroke="#2b2b2b" stroke-width="1.30" stroke-linejoin="round">550</text><text transform="translate(1077.88,1100.99) scale(0.9845,1)" font-size="41.14" fill="#2b2b2b" stroke="#2b2b2b" stroke-width="1.30" stroke-linejoin="round">575</text><text transform="translate(1180.86,1100.99) scale(1.0048,1)" font-size="40.56" fill="#2b2b2b" stroke="#2b2b2b" stroke-width="1.30" stroke-linejoin="round">600</text><text transform="translate(1284.26,1100.99) scale(1.0048,1)" font-size="40.56" fill="#2b2b2b" stroke="#2b2b2b" stroke-width="1.30" stroke-linejoin="round">625</text><text transform="translate(1387.66,1100.99) scale(1.0048,1)" font-size="40.56" fill="#2b2b2b" stroke="#2b2b2b" stroke-width="1.30" stroke-linejoin="round">650</text><text transform="translate(1491.06,1100.99) scale(1.0048,1)" font-size="40.56" fill="#2b2b2b" stroke="#2b2b2b" stroke-width="1.30" stroke-linejoin="round">675</text><text transform="translate(1594.46,1100.99) scale(1.0048,1)" font-size="40.56" fill="#2b2b2b" stroke="#2b2b2b" stroke-width="1.30" stroke-linejoin="round">700</text><text transform="translate(869.18,117.80) scale(1.1620,1)" font-size="52.50" fill="#2b2b2b" stroke="#2b2b2b" stroke-width="1.30" stroke-linejoin="round"><tspan font-family="NanumGothic, Liberation Sans, sans-serif" font-weight="bold" style="font-size:93.3%">1</tspan> drop</text><text transform="translate(53.60,717.00) rotate(-90) scale(0.9727,1)" font-size="49.5" fill="#2b2b2b" stroke="#2b2b2b" stroke-width="1.3" stroke-linejoin="round">Absorbance (a.u)</text><text transform="translate(832.12,1179.60) scale(1.2667,1)" font-size="38.13" font-weight="bold" fill="#2b2b2b" stroke="#2b2b2b" stroke-width="0.60" stroke-linejoin="round">λ</text><text transform="translate(868.02,1179.18) scale(1.1818,1)" font-size="42.02" font-weight="bold" fill="#2b2b2b" stroke="#2b2b2b" stroke-width="0.60" stroke-linejoin="round">(nm)</text></g>
</g>
<g id="caption"><text transform="translate(783.72,1337.35) scale(0.8462,1)" font-size="85.00" font-family="Liberation Serif, serif" fill="#000">(</text><text transform="translate(810.27,1337.14) scale(0.9378,1)" font-size="86.25" font-weight="bold" font-family="Liberation Serif, serif" fill="#000">a</text><text transform="translate(852.57,1337.35) scale(0.8371,1)" font-size="85.00" font-family="Liberation Serif, serif" fill="#000">)</text></g>
</svg>
</body></html>
